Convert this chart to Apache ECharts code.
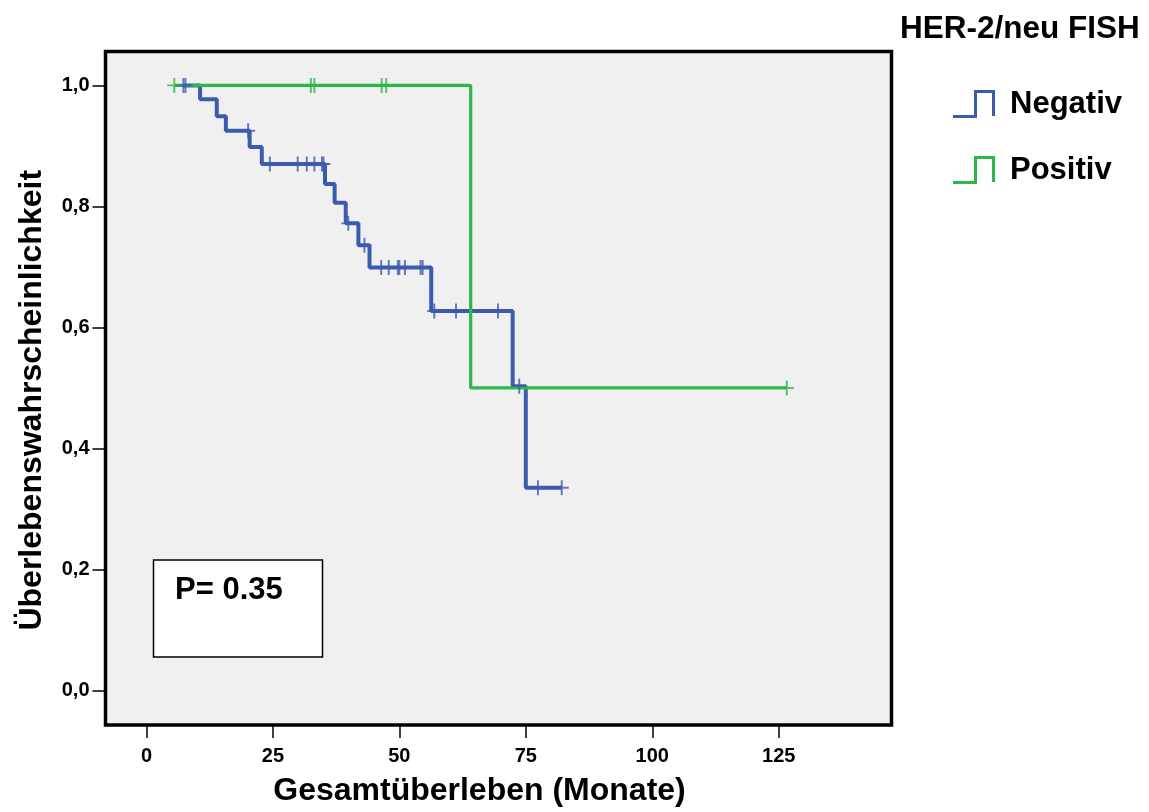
<!DOCTYPE html>
<html>
<head>
<meta charset="utf-8">
<title>Kaplan-Meier HER-2/neu FISH</title>
<script src="https://cdn.jsdelivr.net/npm/echarts@6/dist/echarts.min.js"></script>
<style>
  html, body { margin: 0; padding: 0; background: #fff; }
  #chart { width: 1149px; height: 812px; }
</style>
</head>
<body>
<div id="chart"></div>
<script>
// Kaplan-Meier steps: [months, survival after the step]
const negativCurve = [
  [7.3, 1.0], [10.6, 0.977], [13.9, 0.949], [15.7, 0.925], [20.4, 0.898],
  [22.8, 0.870], [35.3, 0.837], [37.2, 0.806], [39.4, 0.772], [41.9, 0.736],
  [44.1, 0.699], [56.3, 0.627], [72.4, 0.503], [75.0, 0.335], [82.1, 0.335]
];
const negativCensored = [
  [7.3, 1.0], [7.7, 1.0], [20.1, 0.925], [24.4, 0.870], [29.9, 0.870],
  [31.7, 0.870], [33.2, 0.870], [34.7, 0.870], [35.0, 0.870], [39.9, 0.772],
  [43.1, 0.736], [46.4, 0.699], [47.9, 0.699], [49.7, 0.699], [50.0, 0.699],
  [51.1, 0.699], [54.2, 0.699], [54.6, 0.699], [56.9, 0.627], [61.2, 0.627],
  [69.5, 0.627], [73.7, 0.503], [77.4, 0.335], [82.1, 0.335]
];
const positivCurve = [
  [5.5, 1.0], [64.1, 0.5], [126.6, 0.5]
];
const positivCensored = [
  [5.5, 1.0], [32.5, 1.0], [33.2, 1.0], [46.5, 1.0], [47.4, 1.0], [126.6, 0.5]
];
const xTicks = [0, 25, 50, 75, 100, 125];
const yTicks = [0, 0.2, 0.4, 0.6, 0.8, 1.0];

const FONT = '"Liberation Sans", Arial, sans-serif';
const BLUE = '#3d5bae';
const GREEN = '#2db74a';
const CROSS = 'path://M-0.14,-1H0.14V1H-0.14Z M-1,-0.13H1V0.13H-1Z';
const STEP_ICON = 'path://M0,25H21V0H42V26H39V3H24V28H0Z';

const chart = echarts.init(document.getElementById('chart'));

chart.setOption({
  animation: false,
  backgroundColor: '#fff',
  title: {
    text: 'HER-2/neu FISH',
    left: 900,
    top: 13,
    padding: 0,
    textStyle: { fontFamily: FONT, fontSize: 31.5, fontWeight: 'bold', color: '#000' }
  },
  legend: {
    data: ['Negativ', 'Positiv'],
    orient: 'vertical',
    left: 953,
    top: 88,
    padding: 0,
    itemWidth: 42,
    itemHeight: 28,
    itemGap: 34,
    icon: STEP_ICON,
    itemStyle: { borderWidth: 0 },
    textStyle: {
      fontFamily: FONT, fontSize: 31, fontWeight: 'bold', color: '#000',
      lineHeight: 28, padding: [4, 0, 0, 10]
    }
  },
  grid: {
    left: 105.5,
    top: 51.5,
    width: 786,
    height: 675.5,
    show: true,
    backgroundColor: '#f0f0f0',
    borderColor: '#000',
    borderWidth: 3.5
  },
  xAxis: {
    type: 'value',
    min: -8.1,
    max: 147.3,
    name: 'Gesamtüberleben (Monate)',
    nameLocation: 'middle',
    nameGap: 50,
    nameTextStyle: {
      fontFamily: FONT, fontSize: 32, fontWeight: 'bold', color: '#000',
      padding: [0, 38, 0, 0]
    },
    axisLine: { show: false, onZero: false },
    splitLine: { show: false },
    axisTick: {
      show: true, length: 13, customValues: xTicks,
      lineStyle: { color: '#000', width: 1.5 }
    },
    axisLabel: {
      customValues: xTicks, margin: 21,
      fontFamily: FONT, fontSize: 20, fontWeight: 'bold', color: '#000'
    }
  },
  yAxis: {
    type: 'value',
    min: -0.057,
    max: 1.056,
    name: 'Überlebenswahrscheinlichkeit',
    nameLocation: 'middle',
    nameGap: 57,
    nameTextStyle: {
      fontFamily: FONT, fontSize: 32, fontWeight: 'bold', color: '#000',
      padding: [0, 24, 0, 0]
    },
    axisLine: { show: false, onZero: false },
    splitLine: { show: false },
    axisTick: {
      show: true, length: 13, customValues: yTicks,
      lineStyle: { color: '#000', width: 1.5 }
    },
    axisLabel: {
      customValues: yTicks, margin: 16,
      formatter: v => v.toFixed(1).replace('.', ','),
      fontFamily: FONT, fontSize: 20, fontWeight: 'bold', color: '#000'
    }
  },
  graphic: [
    {
      type: 'rect',
      z: 100,
      shape: { x: 153.5, y: 560, width: 169, height: 97 },
      style: { fill: '#fff', stroke: '#000', lineWidth: 1.5 }
    },
    {
      type: 'text',
      z: 101,
      x: 175,
      y: 590.5,
      style: {
        text: 'P= 0.35',
        font: 'bold 31px ' + FONT,
        fill: '#000',
        verticalAlign: 'middle'
      }
    }
  ],
  series: [
    {
      name: 'Negativ',
      type: 'line',
      step: 'end',
      data: negativCurve,
      showSymbol: false,
      color: BLUE,
      lineStyle: { color: BLUE, width: 4 },
      z: 2
    },
    {
      name: 'Positiv',
      type: 'line',
      step: 'end',
      data: positivCurve,
      showSymbol: false,
      color: GREEN,
      lineStyle: { color: GREEN, width: 3.2 },
      z: 2
    },
    {
      name: 'Negativ zensiert',
      type: 'scatter',
      data: negativCensored,
      symbol: CROSS,
      symbolSize: [14, 15],
      itemStyle: { color: BLUE },
      z: 3
    },
    {
      name: 'Positiv zensiert',
      type: 'scatter',
      data: positivCensored,
      symbol: CROSS,
      symbolSize: [14, 15],
      itemStyle: { color: GREEN },
      z: 3
    }
  ]
});
</script>
</body>
</html>
